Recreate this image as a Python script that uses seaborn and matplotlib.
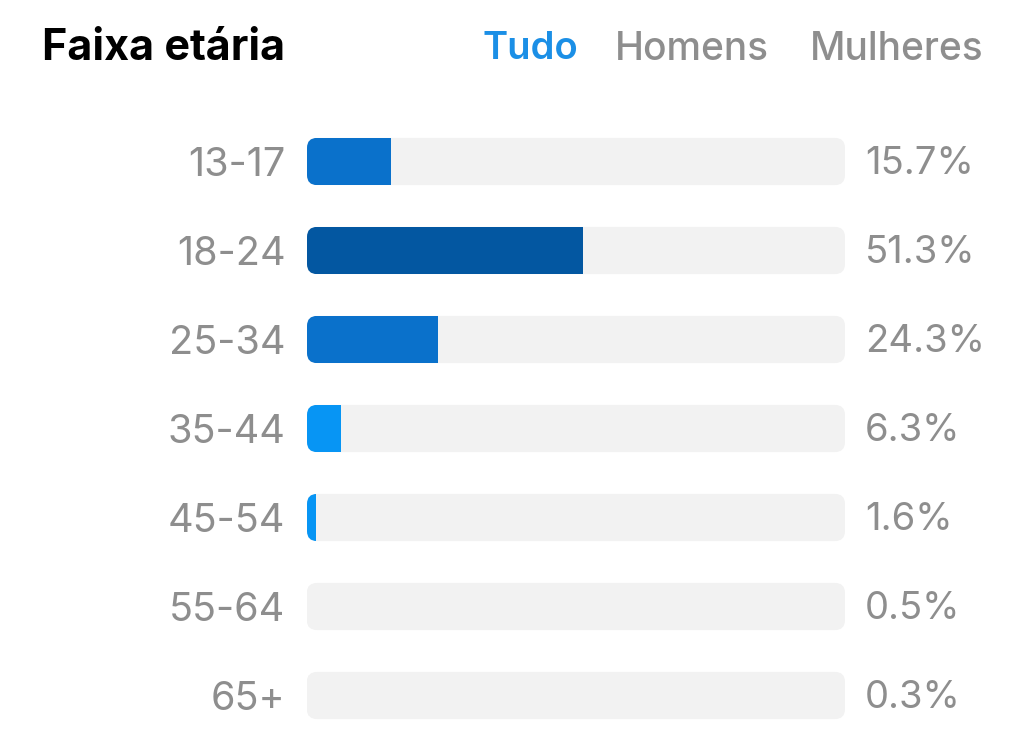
import matplotlib
matplotlib.use("Agg")
import matplotlib.pyplot as plt
from matplotlib.patches import FancyBboxPatch
import matplotlib.transforms as mtransforms
import seaborn as sns
import pandas as pd

categories = ["13-17", "18-24", "25-34", "35-44", "45-54", "55-64", "65+"]
values = [15.7, 51.3, 24.3, 6.3, 1.6, 0.5, 0.3]
value_labels = ["15.7%", "51.3%", "24.3%", "6.3%", "1.6%", "0.5%", "0.3%"]
tabs = ["Tudo", "Homens", "Mulheres"]
title = "Faixa etária"

TRACK = "#f2f2f2"
GREY = "#8e8e8e"

def bar_color(v):
    if v >= 40:
        return "#0357a1"
    if v >= 10:
        return "#0a71cb"
    if v >= 1:
        return "#0795f4"
    return TRACK

sns.set_theme(style="white")
plt.rcParams["font.family"] = ["Inter", "DejaVu Sans"]

df = pd.DataFrame({"cat": categories, "val": values, "full": [100] * len(categories)})

fig = plt.figure(figsize=(10.24, 7.4), dpi=100)
ax = fig.add_axes([307 / 1024, 1 - 740 / 740, 538 / 1024, 623 / 740])

sns.barplot(data=df, y="cat", x="full", color=TRACK, width=0.53, ax=ax,
            saturation=1, orient="h")
n_track = len(ax.patches)
sns.barplot(data=df, y="cat", x="val", hue="cat", legend=False,
            palette=[bar_color(v) for v in values], width=0.53, ax=ax,
            saturation=1, orient="h")

ax.set_xlim(0, 100)
ax.set_ylim(len(categories) - 0.5, -0.5)

track_patches = ax.patches[:n_track]
value_patches = ax.patches[n_track:]

px_x = 538 / 100
px_y = 89.0
r_px = 10
r_x = r_px / px_x
aspect = (r_px / px_y) / r_x

fancy = []
for p in track_patches:
    x, y = p.get_x(), p.get_y()
    w, h = p.get_width(), p.get_height()
    fb = FancyBboxPatch((x, y), w, h,
                        boxstyle=f"round,pad=0,rounding_size={r_x}",
                        mutation_aspect=aspect, facecolor=TRACK,
                        edgecolor="none", zorder=1)
    ax.add_patch(fb)
    p.set_visible(False)
    fancy.append(fb)

for vp in value_patches:
    yc = vp.get_y() + vp.get_height() / 2
    best = min(fancy, key=lambda f: abs(f.get_y() + f.get_height() / 2 - yc))
    vp.set_clip_path(best)
    vp.set_zorder(2)
    vp.set_edgecolor("none")

trans = mtransforms.blended_transform_factory(ax.transAxes, ax.transData)
for i, lab in enumerate(value_labels):
    ax.text((865 - 307) / 538, i - 0.02, lab, transform=trans, ha="left",
            va="center_baseline", fontsize=27.5, color=GREY)

ax.set_xlabel("")
ax.set_ylabel("")
ax.set_xticks([])
ax.tick_params(axis="y", length=0, pad=15.5, labelsize=28.5, labelcolor=GREY)
for lbl in ax.get_yticklabels():
    lbl.set_va("center_baseline")
for s in ax.spines.values():
    s.set_visible(False)

fig.text(42 / 1024, 1 - 49 / 740, title, fontsize=31, fontweight="bold",
         color="black", ha="left", va="center")
tab_x = [482, 615, 810]
tab_colors = ["#1b8fe6", GREY, GREY]
tab_sizes = [27.5, 28, 28]
for t, x, c, fs in zip(tabs, tab_x, tab_colors, tab_sizes):
    fig.text(x / 1024, 1 - 49 / 740, t, fontsize=fs,
             fontweight="semibold" if c != GREY else "medium",
             color=c, ha="left", va="center")

fig.savefig("out.png", dpi=100, facecolor="white")
